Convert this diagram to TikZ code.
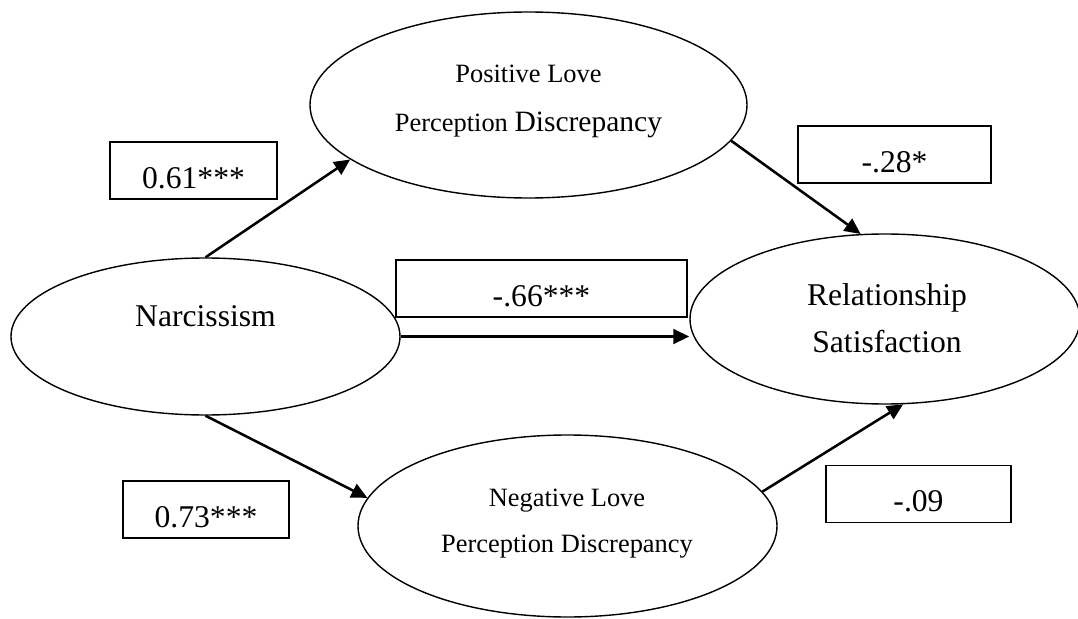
\documentclass[tikz,border=0pt]{standalone}
\usepackage{fontspec}
\setmainfont{Liberation Serif}
\usetikzlibrary{shapes.geometric,arrows.meta}

\begin{document}
\begin{tikzpicture}[x=0.25mm,y=-0.25mm,
  var/.style={ellipse, draw, line width=1pt, inner sep=0pt},
  coef/.style={rectangle, draw, line width=1.1pt, minimum height=14.25mm, text height=8.85mm, text depth=0pt, inner sep=0pt, font=\fontsize{22.5}{27}\selectfont},
  effect/.style={-{Triangle[length=4mm,width=3.7mm]}, line width=1.8pt}]
\useasboundingbox (0,0) rectangle (1078,619);

\node[var, minimum width=97.25mm, minimum height=39.25mm] (narc) at (205.5,336.5) {};
\node[var, minimum width=109.25mm, minimum height=46.5mm] (pos) at (528.5,105) {};
\node[var, minimum width=97.5mm, minimum height=42.5mm] (rel) at (885,319) {};
\node[var, minimum width=104.75mm, minimum height=45.5mm] (neg) at (567.5,526) {};

\node[font=\fontsize{22.5}{27}\selectfont] (narctxt) at (205.5,316.2) {Narcissism};
\node[align=center, font=\fontsize{18.8}{34.9}\selectfont] (postxt) at (528.5,101.7) {Positive Love\\Perception {\fontsize{21}{34.9}\selectfont Discrepancy}};
\node[align=center, font=\fontsize{22.5}{34.1}\selectfont] (reltxt) at (887,318.2) {Relationship\\Satisfaction};
\node[align=center, font=\fontsize{18.8}{32.7}\selectfont] (negtxt) at (567,523.9) {Negative Love\\Perception Discrepancy};

\node[coef, minimum width=41.75mm] (b1) at (193.5,170.5) {0.61***};
\node[coef, minimum width=48.25mm] (b2) at (894.5,154.5) {-.28*};
\node[coef, minimum width=72.75mm] (b3) at (541.5,288.5) {-.66***};
\node[coef, minimum width=41.5mm] (b4) at (206,509.5) {0.73***};
\node[coef, minimum width=46.25mm] (b5) at (918.5,494) {-.09};

\draw[effect] (narc.north) -- (pos.197);
\draw[effect] (pos.-10.7) -- (rel.106);
\draw[effect] (narc.east) -- (narc.east -| rel.west);
\draw[effect] (narc.south) -- (neg.172.3);
\draw[effect] (neg.10.2) -- (rel.-78.6);

\end{tikzpicture}
\end{document}
